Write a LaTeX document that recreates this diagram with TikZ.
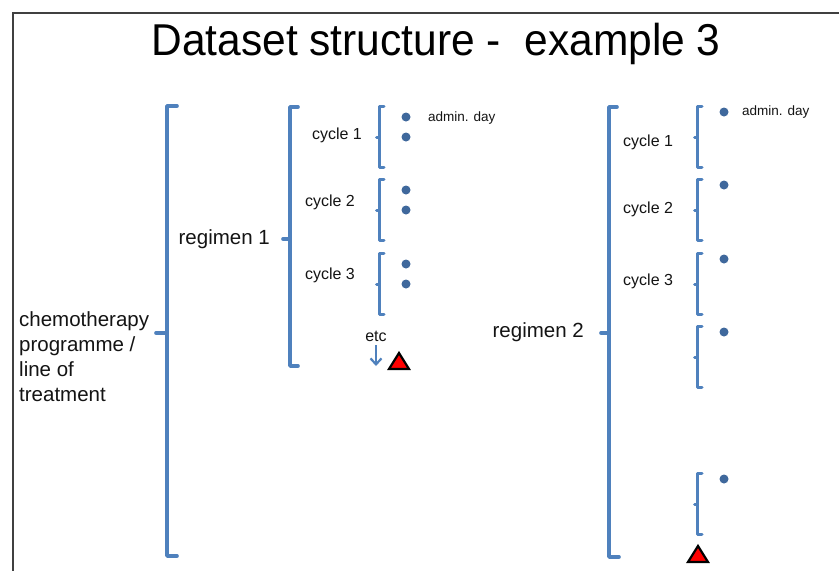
\documentclass[tikz,border=0pt]{standalone}
\usepackage{fontspec}
\setmainfont{Liberation Sans}
\usetikzlibrary{arrows.meta}
\definecolor{brblue}{HTML}{4F81BD}
\definecolor{dotblue}{HTML}{3F689C}
\definecolor{txt}{HTML}{141414}
\begin{document}
\begin{tikzpicture}[x=1pt,y=-1pt,
  bigbr/.style={draw=brblue,line width=3.6pt,line cap=round,line join=round},
  smallbr/.style={draw=brblue,line width=3pt,line cap=round,line join=round},
  dayd/.style={circle,fill=dotblue,inner sep=0pt,minimum size=9pt},
  warn/.style={fill=red,draw=black,line width=2.2pt,line join=miter},
  lbl/.style={text=txt,inner sep=0pt,font=\fontsize{20.5}{25}\selectfont},
  clbl/.style={text=txt,inner sep=0pt,font=\fontsize{16}{19}\selectfont},
  albl/.style={text=txt,inner sep=0pt,font=\fontsize{13.5}{16}\selectfont}]
\useasboundingbox (0,0) rectangle (839,571);
\fill[white] (0,0) rectangle (839,571);
% frame
\draw[draw=black!75,line width=2pt] (839,13) -- (13,13) -- (13,571);
% title
\node[text=black,inner sep=0pt,font=\fontsize{42.5}{48}\selectfont,yscale=1.05] (title) at (436,44) {Dataset structure -\ \ example 3};
% programme bracket
\node[lbl,anchor=west,align=left] (prog) at (19,357) {chemotherapy\\programme /\\line of\\treatment};
\draw[bigbr] (177,106) -- (167,106) -- (167,556) -- (177,556);
\draw[bigbr] (167,333) -- (156,333);
% regimen 1
\node[lbl,anchor=east] (reg1) at (270,239) {regimen 1};
\draw[bigbr] (298,107) -- (290,107) -- (290,366) -- (298,366);
\draw[bigbr] (290,239) -- (283,239);
% regimen 1 cycles
\foreach \t/\n/\lx/\ly in {106/1/362/135,179/2/355/202,253/3/355/275}{
  \draw[smallbr] (384,\t) -- (379,\t) -- (379,\t+61) -- (384,\t+61);
  \draw[smallbr] (379,\t+31) -- (376.5,\t+31);
  \node[clbl,anchor=east] (r1c\n) at (\lx,\ly) {cycle \n};
  \node[dayd] (r1d\n a) at (406,\t+11) {};
  \node[dayd] (r1d\n b) at (406,\t+31) {};
}
\node[albl,anchor=west] (adm1) at (428,118) {admin. day};
\node[clbl] (etc) at (376,336) {etc};
\coordinate (etcend) at (376,366);
\draw[draw=brblue,line width=2.2pt,-{Straight Barb[length=6pt,width=11pt]}] (etc.south) ++(0,4) -- (etcend);
\draw[warn] (389,369) -- (399,353) -- (409,369) -- cycle;
% regimen 2
\node[lbl,anchor=east] (reg2) at (584,332) {regimen 2};
\draw[bigbr] (617,107) -- (609,107) -- (609,557) -- (619,557);
\draw[bigbr] (609,333) -- (601,333);
\foreach \t/\n in {106/1,179/2,253/3,326/4,473/5}{
  \draw[smallbr] (702,\t) -- (697,\t) -- (697,\t+61) -- (702,\t+61);
  \draw[smallbr] (697,\t+31) -- (694.5,\t+31);
  \node[dayd] (r2d\n) at (724,\t+6) {};
}
\foreach \n/\ly in {1/142,2/209,3/281}{
  \node[clbl,anchor=west] (r2c\n) at (623,\ly) {cycle \n};
}
\node[albl,anchor=west] (adm2) at (742,112) {admin. day};
\draw[warn] (688,562) -- (698,546) -- (708,562) -- cycle;
\end{tikzpicture}
\end{document}
